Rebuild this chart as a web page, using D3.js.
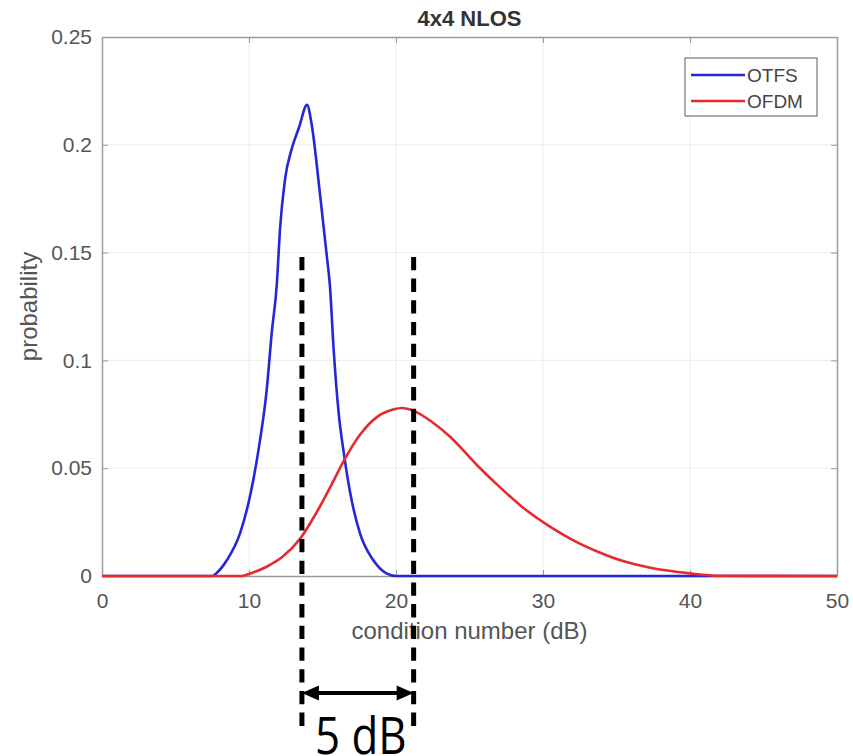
<!DOCTYPE html>
<html lang="en">
  <head>
    <meta charset="UTF-8" />
    <title>4x4 NLOS</title>
    <script src="https://d3js.org/d3.v7.min.js"></script>
    <style>
      body {
        margin: 0;
        background: #fff;
      }
      svg {
        display: block;
      }
      .tick text {
        font-family: "Liberation Sans", Arial, sans-serif;
        fill: #555;
      }
    </style>
  </head>
  <body>
    <svg id="chart" width="853" height="756"></svg>
  </body>
  <script>
    // values
    const otfsX = [0, 7.5, 7.8, 8.5, 9.4, 10.1, 10.75, 11.2, 11.55, 11.9, 12.1, 12.45, 12.9, 13.4, 13.95, 14.25, 14.8, 15.3, 15.5, 15.75, 16.1, 16.45, 16.9, 17.55, 18.45, 19.35, 20, 50];
    const otfsY = [0, 0, 0.0014, 0.0074, 0.02, 0.038, 0.063, 0.086, 0.113, 0.136, 0.16, 0.184, 0.198, 0.208, 0.2185, 0.21, 0.179, 0.148, 0.135, 0.106, 0.0755, 0.057, 0.038, 0.0198, 0.0074, 0.0012, 0, 0];

    const ofdmX = [0, 9.5, 10.1, 11.2, 12.3, 13.5, 14.6, 15.7, 16.4, 17.55, 18.7, 19.8, 20.4, 21.2, 22.5, 23.7, 25.5, 27.1, 28.5, 30.5, 32, 33.9, 35.5, 37.3, 40, 42, 50];
    const ofdmY = [0, 0, 0.0012, 0.0043, 0.009, 0.0175, 0.0295, 0.0435, 0.0528, 0.0655, 0.0737, 0.0772, 0.0779, 0.0766, 0.0712, 0.0645, 0.0515, 0.041, 0.0325, 0.0228, 0.0168, 0.0108, 0.0068, 0.0038, 0.0012, 0.0001, 0];

    const xTicks = [0, 10, 20, 30, 40, 50];
    const yTicks = [0, 0.05, 0.1, 0.15, 0.2, 0.25];
    const seriesNames = ["OTFS", "OFDM"];
    const seriesColors = ["#2626d9", "#e62a2e"];

    const gapX = [13.6, 21.2];
    const gapTop = 0.148;
    const gapLabel = "5 dB";

    const svg = d3.select("#chart");
    const plotLeft = 102, plotRight = 837, plotTop = 37, plotBottom = 576;

    const x = d3.scaleLinear().domain([0, 50]).range([plotLeft, plotRight]);
    const y = d3.scaleLinear().domain([0, 0.25]).range([plotBottom, plotTop]);

    // grid
    svg.append("g")
      .selectAll("line")
      .data(xTicks.slice(1, -1))
      .join("line")
      .attr("x1", (d) => x(d)).attr("x2", (d) => x(d))
      .attr("y1", plotTop).attr("y2", plotBottom)
      .attr("stroke", "#ececec");
    svg.append("g")
      .selectAll("line")
      .data(yTicks.slice(1, -1))
      .join("line")
      .attr("x1", plotLeft).attr("x2", plotRight)
      .attr("y1", (d) => y(d)).attr("y2", (d) => y(d))
      .attr("stroke", "#ececec");

    const fmt = (d) => (d === 0 ? "0" : String(d));

    const styleAxis = (g) => {
      g.select(".domain").attr("stroke", "#9a9a9a").attr("stroke-width", 1.5);
      g.selectAll(".tick line").attr("stroke", "#9a9a9a");
      g.selectAll(".tick text").attr("font-size", 21);
    };

    svg.append("g")
      .attr("transform", `translate(0,${plotBottom})`)
      .call(d3.axisBottom(x).tickValues(xTicks).tickFormat(fmt).tickSizeInner(-6).tickSizeOuter(0).tickPadding(17))
      .call(styleAxis);
    svg.append("g")
      .attr("transform", `translate(0,${plotTop})`)
      .call(d3.axisTop(x).tickValues(xTicks).tickFormat("").tickSizeInner(-6).tickSizeOuter(0))
      .call(styleAxis);
    svg.append("g")
      .attr("transform", `translate(${plotLeft},0)`)
      .call(d3.axisLeft(y).tickValues(yTicks).tickFormat(fmt).tickSizeInner(-6).tickSizeOuter(0).tickPadding(10))
      .call(styleAxis);
    svg.append("g")
      .attr("transform", `translate(${plotRight},0)`)
      .call(d3.axisRight(y).tickValues(yTicks).tickFormat("").tickSizeInner(-6).tickSizeOuter(0))
      .call(styleAxis);

    // curves
    const line = d3.line().x((d) => x(d[0])).y((d) => y(d[1])).curve(d3.curveMonotoneX);
    const series = [d3.zip(otfsX, otfsY), d3.zip(ofdmX, ofdmY)];
    series.forEach((pts, i) => {
      svg.append("path")
        .datum(pts)
        .attr("d", line)
        .attr("fill", "none")
        .attr("stroke", seriesColors[i])
        .attr("stroke-width", 2.6);
    });

    // texts
    svg.append("text")
      .attr("x", (plotLeft + plotRight) / 2).attr("y", 26)
      .attr("text-anchor", "middle")
      .attr("font-family", "Liberation Sans, Arial, sans-serif")
      .attr("font-weight", "bold").attr("font-size", 22).attr("fill", "#333")
      .text("4x4 NLOS");
    svg.append("text")
      .attr("x", (plotLeft + plotRight) / 2).attr("y", 639)
      .attr("text-anchor", "middle")
      .attr("font-family", "Liberation Sans, Arial, sans-serif")
      .attr("font-size", 24).attr("fill", "#555")
      .text("condition number (dB)");
    svg.append("text")
      .attr("transform", `translate(37,${(plotTop + plotBottom) / 2}) rotate(-90)`)
      .attr("text-anchor", "middle")
      .attr("font-family", "Liberation Sans, Arial, sans-serif")
      .attr("font-size", 24).attr("fill", "#555")
      .text("probability");

    // legend
    const lg = svg.append("g").attr("transform", "translate(685,58)");
    lg.append("rect").attr("width", 132).attr("height", 58)
      .attr("fill", "#fff").attr("stroke", "#777").attr("stroke-width", 1.2);
    seriesNames.forEach((name, i) => {
      const ly = 17 + i * 26;
      lg.append("line").attr("x1", 6).attr("x2", 60).attr("y1", ly).attr("y2", ly)
        .attr("stroke", seriesColors[i]).attr("stroke-width", 2.6);
      lg.append("text").attr("x", 62).attr("y", ly + 7)
        .attr("font-family", "Liberation Sans, Arial, sans-serif")
        .attr("font-size", 19).attr("fill", "#444")
        .text(name);
    });

    // 5 dB annotation
    const annBottom = plotBottom + 151;
    const arrowY = plotBottom + 117;
    svg.append("g")
      .selectAll("line")
      .data(gapX)
      .join("line")
      .attr("x1", (d) => x(d)).attr("x2", (d) => x(d))
      .attr("y1", y(gapTop)).attr("y2", annBottom)
      .attr("stroke", "#000").attr("stroke-width", 5)
      .attr("stroke-dasharray", "13.3 8.4");

    const ax0 = x(gapX[0]), ax1 = x(gapX[1]);
    svg.append("line")
      .attr("x1", ax0 + 12).attr("x2", ax1 - 12)
      .attr("y1", arrowY).attr("y2", arrowY)
      .attr("stroke", "#000").attr("stroke-width", 4);
    svg.append("path")
      .attr("d", `M${ax0},${arrowY} l17,-7.5 v15 z M${ax1},${arrowY} l-17,-7.5 v15 z`)
      .attr("fill", "#000");
    svg.append("text")
      .attr("transform", `translate(${(ax0 + ax1) / 2 + 3},754) scale(0.86,1)`)
      .attr("text-anchor", "middle")
      .attr("font-family", "Open Sans, Noto Sans, sans-serif")
      .attr("font-size", 51).attr("fill", "#000")
      .text(gapLabel);
  </script>
</html>
